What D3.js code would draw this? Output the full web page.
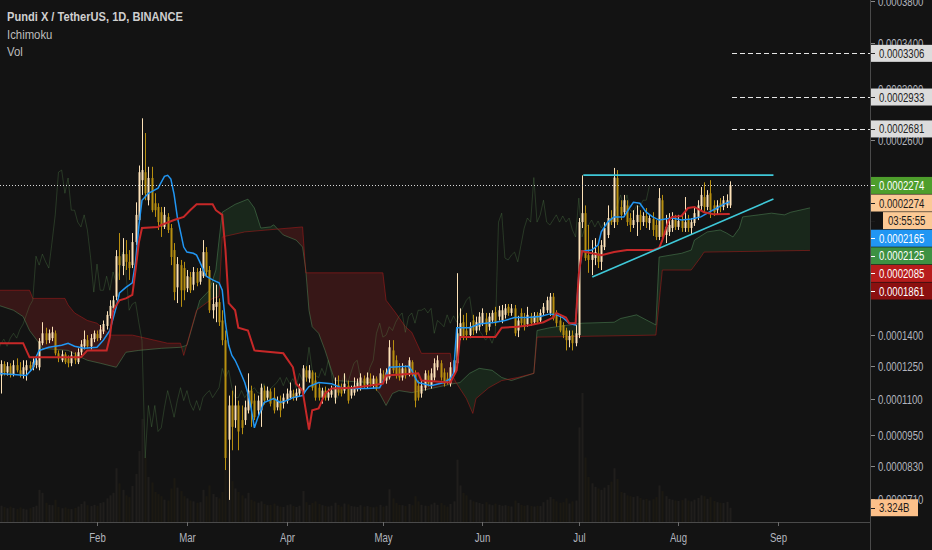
<!DOCTYPE html>
<html><head><meta charset="utf-8">
<script src="https://cdn.jsdelivr.net/npm/d3@7"></script>
<style>
html,body{margin:0;padding:0;background:#131313;}
svg{display:block;}
text{font-family:"Liberation Sans",Arial,sans-serif;}
</style></head><body>
<svg id="chart" width="932" height="550"></svg>
<script>
// ---------- DATA (Pundi X / TetherUS, 1D, BINANCE; daily candles from 2019-01-01) ----------
const firstDay = "2019-01-01";
const open = [
1221e-7,1207e-7,1260e-7,1221e-7,1250e-7,1212e-7,1255e-7,1231e-7,1212e-7,1231e-7,
1255e-7,1245e-7,1255e-7,1245e-7,1360e-7,1409e-7,1375e-7,1385e-7,1409e-7,1311e-7,
1278e-7,1306e-7,1287e-7,1264e-7,1301e-7,1269e-7,1316e-7,1345e-7,1375e-7,1345e-7,
1380e-7,1405e-7,1385e-7,1418e-7,1446e-7,1498e-7,1537e-7,1599e-7,1827e-7,1770e-7,
1839e-7,1794e-7,1775e-7,1911e-7,2047e-7,2310e-7,2365e-7,2175e-7,2325e-7,2155e-7,
2131e-7,2097e-7,2004e-7,2067e-7,1997e-7,1863e-7,1650e-7,1775e-7,1758e-7,1645e-7,
1707e-7,1665e-7,1736e-7,1681e-7,1712e-7,1851e-7,1747e-7,1527e-7,1545e-7,1570e-7,
1474e-7,1375e-7,932e-7,1074e-7,1012e-7,1074e-7,1012e-7,1012e-7,1053e-7,1139e-7,
1095e-7,1053e-7,1053e-7,1139e-7,1108e-7,1135e-7,1108e-7,1066e-7,1095e-7,1082e-7,
1095e-7,1108e-7,1126e-7,1108e-7,1126e-7,1126e-7,1231e-7,1193e-7,1221e-7,1184e-7,
1152e-7,1108e-7,1139e-7,1108e-7,1121e-7,1108e-7,1166e-7,1152e-7,1139e-7,1161e-7,
1117e-7,1130e-7,1148e-7,1152e-7,1193e-7,1166e-7,1193e-7,1166e-7,1193e-7,1166e-7,
1212e-7,1184e-7,1198e-7,1325e-7,1278e-7,1240e-7,1198e-7,1240e-7,1217e-7,1269e-7,
1217e-7,1161e-7,1126e-7,1152e-7,1207e-7,1161e-7,1198e-7,1245e-7,1264e-7,1221e-7,
1193e-7,1170e-7,1221e-7,1264e-7,1390e-7,1465e-7,1423e-7,1400e-7,1474e-7,1423e-7,
1442e-7,1460e-7,1484e-7,1442e-7,1474e-7,1517e-7,1494e-7,1474e-7,1503e-7,1545e-7,
1513e-7,1537e-7,1423e-7,1513e-7,1484e-7,1456e-7,1494e-7,1465e-7,1503e-7,1474e-7,
1513e-7,1527e-7,1513e-7,1599e-7,1503e-7,1474e-7,1451e-7,1423e-7,1375e-7,1400e-7,
1360e-7,1400e-7,2034e-7,2091e-7,1833e-7,1805e-7,1816e-7,1844e-7,1794e-7,1881e-7,
1954e-7,2060e-7,2034e-7,2325e-7,2131e-7,2097e-7,2141e-7,2060e-7,2016e-7,2034e-7,
2080e-7,2034e-7,2073e-7,2028e-7,2054e-7,2016e-7,1942e-7,2175e-7,1954e-7,1973e-7,
1997e-7,2047e-7,2004e-7,2041e-7,1997e-7,2047e-7,1997e-7,2028e-7,2067e-7,2137e-7,
2196e-7,2131e-7,2221e-7,2141e-7,2110e-7,2155e-7,2131e-7,2141e-7,2141e-7];
const high = [
1278e-7,1278e-7,1273e-7,1269e-7,1264e-7,1278e-7,1287e-7,1269e-7,1278e-7,1278e-7,
1273e-7,1287e-7,1296e-7,1385e-7,1465e-7,1437e-7,1428e-7,1442e-7,1423e-7,1325e-7,
1325e-7,1316e-7,1301e-7,1320e-7,1316e-7,1335e-7,1375e-7,1423e-7,1400e-7,1405e-7,
1423e-7,1423e-7,1451e-7,1474e-7,1522e-7,1580e-7,1604e-7,1863e-7,1966e-7,1935e-7,
1923e-7,1863e-7,1966e-7,2161e-7,2412e-7,2763e-7,2650e-7,2403e-7,2403e-7,2221e-7,
2155e-7,2131e-7,2131e-7,2091e-7,2022e-7,1905e-7,1822e-7,1805e-7,1794e-7,1747e-7,
1736e-7,1764e-7,1758e-7,1758e-7,1923e-7,1881e-7,1770e-7,1675e-7,1665e-7,1590e-7,
1527e-7,1423e-7,1117e-7,1139e-7,1161e-7,1095e-7,1074e-7,1095e-7,1217e-7,1161e-7,
1126e-7,1117e-7,1170e-7,1161e-7,1157e-7,1148e-7,1152e-7,1113e-7,1117e-7,1126e-7,
1148e-7,1175e-7,1143e-7,1148e-7,1170e-7,1255e-7,1250e-7,1255e-7,1231e-7,1221e-7,
1170e-7,1152e-7,1157e-7,1148e-7,1161e-7,1198e-7,1207e-7,1170e-7,1217e-7,1184e-7,
1161e-7,1198e-7,1193e-7,1217e-7,1207e-7,1221e-7,1217e-7,1207e-7,1203e-7,1240e-7,
1231e-7,1240e-7,1375e-7,1375e-7,1301e-7,1264e-7,1264e-7,1255e-7,1292e-7,1278e-7,
1231e-7,1184e-7,1184e-7,1231e-7,1231e-7,1240e-7,1287e-7,1301e-7,1278e-7,1240e-7,
1221e-7,1269e-7,1301e-7,1729e-7,1537e-7,1503e-7,1513e-7,1465e-7,1503e-7,1494e-7,
1517e-7,1537e-7,1513e-7,1513e-7,1527e-7,1545e-7,1550e-7,1555e-7,1560e-7,1560e-7,
1560e-7,1555e-7,1498e-7,1537e-7,1513e-7,1545e-7,1513e-7,1517e-7,1517e-7,1532e-7,
1565e-7,1599e-7,1619e-7,1619e-7,1527e-7,1503e-7,1465e-7,1437e-7,1423e-7,1423e-7,
1451e-7,2060e-7,2343e-7,2141e-7,2016e-7,1923e-7,1935e-7,1887e-7,1923e-7,2034e-7,
2141e-7,2110e-7,2395e-7,2380e-7,2175e-7,2210e-7,2175e-7,2091e-7,2110e-7,2141e-7,
2110e-7,2097e-7,2124e-7,2080e-7,2097e-7,2047e-7,2256e-7,2210e-7,2080e-7,2091e-7,
2097e-7,2080e-7,2080e-7,2080e-7,2196e-7,2080e-7,2060e-7,2124e-7,2175e-7,2263e-7,
2295e-7,2242e-7,2310e-7,2175e-7,2175e-7,2189e-7,2203e-7,2214e-7,2302e-7];
const low = [
1207e-7,1126e-7,1207e-7,1207e-7,1198e-7,1203e-7,1221e-7,1198e-7,1193e-7,1184e-7,
1226e-7,1231e-7,1240e-7,1231e-7,1350e-7,1355e-7,1360e-7,1370e-7,1301e-7,1269e-7,
1269e-7,1260e-7,1245e-7,1250e-7,1260e-7,1260e-7,1301e-7,1330e-7,1335e-7,1330e-7,
1365e-7,1370e-7,1375e-7,1405e-7,1428e-7,1484e-7,1517e-7,1580e-7,1691e-7,1718e-7,
1747e-7,1691e-7,1758e-7,1893e-7,2034e-7,2210e-7,2175e-7,2141e-7,2097e-7,2067e-7,
1985e-7,1942e-7,1991e-7,1966e-7,1775e-7,1580e-7,1565e-7,1545e-7,1580e-7,1624e-7,
1619e-7,1634e-7,1656e-7,1665e-7,1702e-7,1712e-7,1513e-7,1484e-7,1465e-7,1446e-7,
1350e-7,814e-7,705e-7,890e-7,980e-7,890e-7,954e-7,992e-7,1040e-7,984e-7,
1012e-7,1032e-7,984e-7,1078e-7,1095e-7,1070e-7,1040e-7,1053e-7,1024e-7,1061e-7,
1082e-7,1100e-7,1095e-7,1095e-7,1113e-7,1117e-7,1179e-7,1175e-7,1139e-7,1095e-7,
1095e-7,1082e-7,1095e-7,1095e-7,1108e-7,1082e-7,1117e-7,1113e-7,1126e-7,1082e-7,
1104e-7,1117e-7,1135e-7,1139e-7,1148e-7,1148e-7,1157e-7,1148e-7,1139e-7,1157e-7,
1170e-7,1170e-7,1189e-7,1217e-7,1193e-7,1184e-7,1184e-7,1193e-7,1203e-7,1203e-7,
1066e-7,1095e-7,1108e-7,1139e-7,1157e-7,1148e-7,1184e-7,1231e-7,1184e-7,1157e-7,
1166e-7,1157e-7,1207e-7,1255e-7,1375e-7,1375e-7,1375e-7,1385e-7,1400e-7,1409e-7,
1423e-7,1446e-7,1400e-7,1423e-7,1460e-7,1446e-7,1474e-7,1460e-7,1484e-7,1498e-7,
1498e-7,1395e-7,1390e-7,1446e-7,1423e-7,1442e-7,1446e-7,1451e-7,1456e-7,1460e-7,
1498e-7,1513e-7,1498e-7,1474e-7,1442e-7,1414e-7,1385e-7,1325e-7,1340e-7,1325e-7,
1345e-7,1385e-7,1997e-7,1800e-7,1731e-7,1718e-7,1775e-7,1758e-7,1747e-7,1863e-7,
1935e-7,2016e-7,1997e-7,2016e-7,2047e-7,2067e-7,2010e-7,1973e-7,1997e-7,1948e-7,
1985e-7,2010e-7,1997e-7,1985e-7,1948e-7,1923e-7,1923e-7,1923e-7,1905e-7,1948e-7,
1973e-7,1985e-7,1985e-7,1973e-7,1973e-7,1973e-7,1954e-7,2010e-7,2047e-7,2110e-7,
2097e-7,2110e-7,2060e-7,2073e-7,2084e-7,2097e-7,2110e-7,2124e-7,2124e-7];
const close = [
1255e-7,1260e-7,1221e-7,1250e-7,1212e-7,1255e-7,1231e-7,1212e-7,1245e-7,1255e-7,
1240e-7,1269e-7,1278e-7,1370e-7,1409e-7,1375e-7,1409e-7,1414e-7,1311e-7,1287e-7,
1306e-7,1269e-7,1264e-7,1301e-7,1278e-7,1316e-7,1355e-7,1380e-7,1345e-7,1385e-7,
1409e-7,1385e-7,1428e-7,1456e-7,1503e-7,1550e-7,1580e-7,1827e-7,1775e-7,1839e-7,
1794e-7,1758e-7,1911e-7,2080e-7,2365e-7,2380e-7,2221e-7,2325e-7,2110e-7,2110e-7,
2034e-7,2004e-7,2080e-7,1985e-7,1822e-7,1624e-7,1781e-7,1634e-7,1634e-7,1712e-7,
1634e-7,1736e-7,1675e-7,1741e-7,1851e-7,1736e-7,1527e-7,1560e-7,1570e-7,1465e-7,
1375e-7,860e-7,1074e-7,984e-7,1074e-7,965e-7,980e-7,1066e-7,1139e-7,1082e-7,
1024e-7,1095e-7,1152e-7,1095e-7,1139e-7,1082e-7,1053e-7,1095e-7,1053e-7,1108e-7,
1126e-7,1139e-7,1108e-7,1130e-7,1152e-7,1240e-7,1198e-7,1231e-7,1152e-7,1108e-7,
1108e-7,1139e-7,1108e-7,1130e-7,1139e-7,1152e-7,1130e-7,1126e-7,1170e-7,1095e-7,
1148e-7,1161e-7,1175e-7,1198e-7,1161e-7,1198e-7,1170e-7,1193e-7,1152e-7,1217e-7,
1184e-7,1221e-7,1340e-7,1231e-7,1207e-7,1198e-7,1240e-7,1207e-7,1278e-7,1217e-7,
1095e-7,1108e-7,1161e-7,1217e-7,1170e-7,1217e-7,1264e-7,1278e-7,1198e-7,1170e-7,
1184e-7,1245e-7,1278e-7,1409e-7,1460e-7,1390e-7,1400e-7,1442e-7,1423e-7,1465e-7,
1494e-7,1513e-7,1414e-7,1494e-7,1513e-7,1460e-7,1527e-7,1527e-7,1537e-7,1513e-7,
1537e-7,1409e-7,1474e-7,1460e-7,1442e-7,1503e-7,1460e-7,1498e-7,1465e-7,1513e-7,
1545e-7,1580e-7,1599e-7,1484e-7,1460e-7,1423e-7,1400e-7,1375e-7,1395e-7,1360e-7,
1409e-7,2034e-7,2091e-7,1816e-7,1805e-7,1833e-7,1851e-7,1794e-7,1893e-7,1997e-7,
2060e-7,2034e-7,2328e-7,2034e-7,2080e-7,2175e-7,2034e-7,2016e-7,2047e-7,2080e-7,
2034e-7,2073e-7,2034e-7,2060e-7,1985e-7,1942e-7,2189e-7,1942e-7,2004e-7,2016e-7,
2047e-7,2004e-7,2041e-7,1997e-7,2034e-7,1997e-7,2034e-7,2091e-7,2141e-7,2210e-7,
2131e-7,2210e-7,2110e-7,2097e-7,2141e-7,2131e-7,2175e-7,2175e-7,2274e-7];
// volume, in billions of PUNDIX
const volumeB = [
4.1,3.8,3.5,3.2,3.6,3.3,3.0,3.4,3.1,2.9,3.2,3.5,3.8,7.5,6.8,4.5,4.0,3.9,5.2,
3.5,3.2,3.4,3.1,3.0,3.3,3.6,4.2,4.8,3.9,3.7,4.0,
3.8,4.4,4.6,5.5,6.2,6.8,12.5,9.0,7.5,6.2,5.8,8.4,11.2,16.5,24.0,15.0,10.5,9.2,
7.0,6.5,6.0,5.2,5.0,7.8,10.2,8.0,7.2,6.0,5.5,5.0,4.8,4.5,4.6,7.5,6.0,8.5,6.5,5.8,5.5,
7.0,21.0,16.0,9.5,7.8,7.0,6.2,5.5,6.8,5.2,4.8,
4.5,4.8,4.2,3.9,4.0,4.3,3.8,3.6,3.5,3.9,4.1,3.7,3.5,3.8,7.2,
4.6,4.0,4.4,4.8,4.2,3.9,3.7,3.6,3.8,4.5,4.0,3.6,4.3,4.1,3.7,3.6,3.5,3.9,3.6,3.7,3.5,3.4,3.6,4.0,3.6,3.8,
7.6,5.5,4.4,4.0,3.9,3.7,4.2,3.9,6.0,4.8,4.0,3.8,3.7,4.1,4.5,4.0,4.4,3.9,3.6,4.2,4.8,
14.5,8.5,6.8,6.2,5.2,4.8,4.6,4.4,
4.2,4.6,4.1,3.9,4.3,4.0,3.8,3.9,3.7,3.6,5.0,4.4,4.0,3.8,3.9,3.7,3.6,3.8,3.7,4.6,
5.2,5.8,5.4,4.8,4.5,4.6,5.5,4.3,4.8,5.0,
22.0,30.0,15.0,10.5,9.0,8.2,7.8,7.5,8.0,8.6,9.4,12.5,10.0,
7.0,6.8,6.2,6.0,5.8,6.0,5.6,5.2,5.4,5.0,5.3,5.8,8.5,7.2,6.0,5.4,5.2,5.0,4.9,5.1,
5.5,5.0,4.8,5.2,5.6,6.2,6.0,5.4,5.8,4.9,4.6,4.5,4.4,4.7,3.324];
// Ichimoku lines: [day offset from firstDay, value]
const tenkan = [[0,1217e-7],[5,1212e-7],[9,1207e-7],[11,1240e-7],[12,1292e-7],[13,1325e-7],[16,1340e-7],[20,1350e-7],[22,1360e-7],[24,1345e-7],[27,1335e-7],[31,1340e-7],[33,1375e-7],[35,1423e-7],[37,1545e-7],[38,1619e-7],[40,1650e-7],[42,1675e-7],[43,1794e-7],[44,2004e-7],[45,2175e-7],[47,2221e-7],[50,2256e-7],[52,2336e-7],[53,2343e-7],[54,2317e-7],[55,2214e-7],[56,2067e-7],[57,1973e-7],[58,1881e-7],[59,1851e-7],[61,1844e-7],[62,1833e-7],[63,1794e-7],[65,1712e-7],[67,1691e-7],[69,1675e-7],[70,1634e-7],[71,1460e-7],[72,1350e-7],[73,1301e-7],[74,1278e-7],[75,1245e-7],[77,1175e-7],[78,1126e-7],[79,1061e-7],[80,980e-7],[81,1020e-7],[83,1087e-7],[86,1104e-7],[88,1087e-7],[90,1095e-7],[92,1108e-7],[95,1117e-7],[96,1139e-7],[97,1157e-7],[100,1175e-7],[104,1170e-7],[107,1152e-7],[110,1148e-7],[115,1148e-7],[119,1152e-7],[121,1207e-7],[122,1245e-7],[128,1250e-7],[129,1231e-7],[130,1198e-7],[131,1175e-7],[135,1161e-7],[139,1175e-7],[141,1193e-7],[142,1217e-7],[143,1437e-7],[147,1437e-7],[150,1456e-7],[152,1460e-7],[155,1465e-7],[158,1474e-7],[161,1489e-7],[165,1489e-7],[169,1494e-7],[172,1508e-7],[174,1503e-7],[176,1489e-7],[178,1460e-7],[180,1451e-7],[181,1714e-7],[182,1856e-7],[185,1863e-7],[187,1893e-7],[188,1973e-7],[190,2034e-7],[192,2067e-7],[195,2067e-7],[197,2131e-7],[198,2161e-7],[200,2155e-7],[202,2097e-7],[204,2067e-7],[206,2047e-7],[210,2060e-7],[213,2047e-7],[216,2054e-7],[219,2067e-7],[221,2091e-7],[224,2124e-7],[226,2148e-7],[228,2165e-7]];
const kijun = [[0,1360e-7],[8,1360e-7],[10,1292e-7],[26,1292e-7],[28,1325e-7],[34,1325e-7],[35,1390e-7],[36,1527e-7],[38,1580e-7],[40,1590e-7],[42,1609e-7],[43,1747e-7],[44,1905e-7],[45,1997e-7],[50,2004e-7],[51,2016e-7],[55,2047e-7],[58,2067e-7],[60,2110e-7],[62,2148e-7],[67,2148e-7],[68,2110e-7],[70,2080e-7],[71,1863e-7],[72,1565e-7],[74,1527e-7],[75,1437e-7],[78,1423e-7],[80,1325e-7],[89,1311e-7],[92,1245e-7],[93,1170e-7],[95,1139e-7],[97,973e-7],[98,1053e-7],[100,1061e-7],[102,1126e-7],[104,1148e-7],[111,1152e-7],[120,1170e-7],[121,1207e-7],[131,1217e-7],[132,1184e-7],[141,1175e-7],[143,1231e-7],[144,1390e-7],[155,1390e-7],[157,1437e-7],[162,1442e-7],[166,1451e-7],[170,1465e-7],[173,1489e-7],[174,1513e-7],[177,1489e-7],[178,1460e-7],[180,1460e-7],[181,1724e-7],[182,1856e-7],[188,1833e-7],[192,1851e-7],[196,1863e-7],[204,1863e-7],[206,1875e-7],[207,1923e-7],[208,1985e-7],[209,2047e-7],[210,2067e-7],[213,2073e-7],[215,2124e-7],[217,2131e-7],[220,2097e-7],[223,2084e-7],[228,2085e-7]];
const spanA = [[0,1555e-7],[5,1527e-7],[8,1494e-7],[10,1423e-7],[13,1360e-7],[14,1335e-7],[22,1325e-7],[26,1292e-7],[28,1278e-7],[32,1264e-7],[37,1245e-7],[40,1316e-7],[44,1325e-7],[51,1335e-7],[57,1340e-7],[59,1350e-7],[63,1580e-7],[66,1634e-7],[68,1747e-7],[69,1923e-7],[70,2097e-7],[71,2110e-7],[74,2148e-7],[78,2182e-7],[80,2124e-7],[82,1997e-7],[85,2004e-7],[86,2017e-7],[89,1954e-7],[93,1923e-7],[95,1881e-7],[96,1747e-7],[97,1527e-7],[98,1442e-7],[100,1409e-7],[102,1325e-7],[104,1231e-7],[105,1184e-7],[116,1175e-7],[119,1126e-7],[121,1074e-7],[123,1126e-7],[125,1139e-7],[129,1130e-7],[142,1170e-7],[144,1175e-7],[147,1217e-7],[150,1240e-7],[154,1231e-7],[157,1198e-7],[160,1184e-7],[167,1217e-7],[168,1423e-7],[172,1437e-7],[182,1460e-7],[192,1465e-7],[194,1484e-7],[199,1503e-7],[205,1451e-7],[206,1822e-7],[213,1844e-7],[216,1863e-7],[217,1923e-7],[221,1973e-7],[225,1985e-7],[227,1966e-7],[229,1942e-7],[231,1997e-7],[232,2067e-7],[237,2080e-7],[241,2091e-7],[245,2080e-7],[247,2097e-7],[253,2125e-7]];
const spanB = [[0,1634e-7],[10,1634e-7],[11,1590e-7],[21,1590e-7],[22,1555e-7],[24,1513e-7],[28,1474e-7],[31,1460e-7],[35,1400e-7],[42,1400e-7],[53,1360e-7],[57,1360e-7],[58,1301e-7],[62,1527e-7],[67,1590e-7],[69,1599e-7],[70,1942e-7],[77,1973e-7],[95,2004e-7],[96,1731e-7],[120,1731e-7],[121,1580e-7],[124,1513e-7],[127,1442e-7],[129,1414e-7],[132,1311e-7],[141,1311e-7],[142,1198e-7],[143,1170e-7],[146,1104e-7],[148,1040e-7],[149,1104e-7],[153,1152e-7],[157,1184e-7],[162,1198e-7],[167,1217e-7],[168,1390e-7],[205,1400e-7],[207,1747e-7],[216,1747e-7],[219,1822e-7],[220,1851e-7],[253,1861e-7]];
const chikouShift = 25;
// drawings
const trendLines = [[[182.4,2345e-7],[241.6,2345e-7]],[[185.2,1707e-7],[241.6,2183e-7]]];
const levels = [3306e-7, 2933e-7, 2681e-7];
const levelStart = 228.7;
const lastPrice = 2274e-7;
const priceTicks = [0.00038,0.00034,0.0003,0.00026,0.00014,0.000125,0.00011,0.000095,0.000083,0.000071];
const lastValues = {tenkan:2165e-7, spanA:2125e-7, kijun:2085e-7, spanB:1861e-7};
const countdown = "03:55:55";
const titleLines = ["Pundi X / TetherUS, 1D, BINANCE","Ichimoku","Vol"];

// ---------- LAYOUT ----------
const W=932, H=550, PW=870, PH=522;
const UP="#fde2b8", DOWN="#b88f10";
const BG="#131313", AXIS_TXT="#b2b5be";
const svg=d3.select("#chart");
svg.append("rect").attr("width",W).attr("height",H).attr("fill",BG);
const t0=Date.parse(firstDay+"T00:00:00Z");
const dateOf=i=>new Date(t0+i*864e5);
const x=d3.scaleUtc().domain([dateOf(0.8),dateOf(271.66)]).range([0,PW]);
const OFF=1e-4; // price axis: logarithmic on (price + offset)
const yLog=d3.scaleLog().domain([0.00038+OFF,0.000071+OFF]).range([1,498.5]);
const y=p=>yLog(p+OFF);
const yVol=d3.scaleLinear().domain([0,30]).range([PH,393]);
const xi=i=>x(dateOf(i));
// condensed text helper
function squeeze(sel,f){const n=sel.node();const w=n.getComputedTextLength();sel.attr("textLength",w*f).attr("lengthAdjust","spacingAndGlyphs");return sel;}

const defs=svg.append("defs");
defs.append("clipPath").attr("id","plot").append("rect").attr("width",PW).attr("height",PH);
const g=svg.append("g").attr("clip-path","url(#plot)");

// cloud
const lineA=d3.line().x(d=>xi(d[0])).y(d=>y(d[1]));
function areaTo(data, edge){return d3.area().x(d=>xi(d[0])).y0(edge).y1(d=>y(d[1]))(data);}
defs.append("clipPath").attr("id","belowA").append("path").attr("d",areaTo(spanA,PH));
defs.append("clipPath").attr("id","belowB").append("path").attr("d",areaTo(spanB,PH));
g.append("path").attr("d",areaTo(spanB,0)).attr("clip-path","url(#belowA)").attr("fill","#3f9c48").attr("fill-opacity",0.15);
g.append("path").attr("d",areaTo(spanA,0)).attr("clip-path","url(#belowB)").attr("fill","#c62828").attr("fill-opacity",0.2);
g.append("path").attr("d",lineA(spanA)).attr("fill","none").attr("stroke","#5b9a62").attr("stroke-opacity",0.45).attr("stroke-width",1);
g.append("path").attr("d",lineA(spanB)).attr("fill","none").attr("stroke","#b71c1c").attr("stroke-opacity",0.5).attr("stroke-width",1);

// chikou (close plotted back)
const chik=close.map((c,i)=>[i-chikouShift,c]).filter(d=>d[0]>=-1);
g.append("path").attr("d",lineA(chik)).attr("fill","none").attr("stroke","#5a8f4e").attr("stroke-opacity",0.3).attr("stroke-width",1);

// volume
const idx=d3.range(close.length);
g.append("g").selectAll("rect").data(idx).join("rect")
 .attr("x",i=>Math.round(xi(i))-0.5).attr("width",2)
 .attr("y",i=>yVol(volumeB[i]||0)).attr("height",i=>PH-yVol(volumeB[i]||0))
 .attr("fill",i=>close[i]>=open[i]?UP:DOWN).attr("fill-opacity",0.06);

// candles
const cg=g.append("g");
cg.selectAll("line").data(idx).join("line")
 .attr("x1",i=>Math.round(xi(i))+0.5).attr("x2",i=>Math.round(xi(i))+0.5)
 .attr("y1",i=>y(high[i])).attr("y2",i=>y(low[i]))
 .attr("stroke",i=>close[i]>=open[i]?UP:DOWN).attr("stroke-width",1);
cg.selectAll("rect").data(idx).join("rect")
 .attr("x",i=>Math.round(xi(i))-0.5).attr("width",2)
 .attr("y",i=>y(Math.max(open[i],close[i])))
 .attr("height",i=>Math.max(1,Math.abs(y(open[i])-y(close[i]))))
 .attr("fill",i=>close[i]>=open[i]?UP:DOWN);

// tenkan / kijun
g.append("path").attr("d",lineA(tenkan)).attr("fill","none").attr("stroke","#2196f3").attr("stroke-width",1.5);
g.append("path").attr("d",lineA(kijun)).attr("fill","none").attr("stroke","#c62828").attr("stroke-width",2);

// trend lines
trendLines.forEach(t=>{
 g.append("line").attr("x1",xi(t[0][0])).attr("y1",y(t[0][1])).attr("x2",xi(t[1][0])).attr("y2",y(t[1][1]))
  .attr("stroke","#3fc8d8").attr("stroke-width",1.6);
});
g.append("line").attr("x1",0).attr("x2",PW).attr("y1",Math.round(y(lastPrice))+0.5).attr("y2",Math.round(y(lastPrice))+0.5)
 .attr("stroke","#d8d8d8").attr("stroke-dasharray","1,2").attr("stroke-width",1);
levels.forEach(v=>{
 g.append("line").attr("x1",xi(levelStart)).attr("x2",PW).attr("y1",Math.round(y(v))+0.5).attr("y2",Math.round(y(v))+0.5)
  .attr("stroke","#e6e6e6").attr("stroke-dasharray","5,3").attr("stroke-width",1);
});

// legend
const leg=svg.append("g");
const t1=leg.append("text").attr("x",7).attr("y",21).text(titleLines[0]).attr("fill","#cfcfcf").attr("font-size",13.5).attr("font-weight","bold");
t1.attr("textLength",176).attr("lengthAdjust","spacingAndGlyphs");
squeeze(leg.append("text").attr("x",7).attr("y",39).text(titleLines[1]).attr("fill","#bdbdbd").attr("font-size",13.5),0.84);
squeeze(leg.append("text").attr("x",7).attr("y",56).text(titleLines[2]).attr("fill","#bdbdbd").attr("font-size",13.5),0.84);

// axes
const ax=svg.append("g");
ax.append("line").attr("x1",PW+0.5).attr("x2",PW+0.5).attr("y1",0).attr("y2",H).attr("stroke","#4a4a4a");
ax.append("line").attr("x1",0).attr("x2",PW).attr("y1",PH+0.5).attr("y2",PH+0.5).attr("stroke","#4a4a4a");
const fmt=d3.format(".7f");
const AX_F=0.8;
priceTicks.forEach(v=>{
 const yy=Math.round(y(v))+0.5;
 ax.append("line").attr("x1",PW+1).attr("x2",PW+5).attr("y1",yy).attr("y2",yy).attr("stroke","#8a8a8a");
 squeeze(ax.append("text").attr("x",PW+8).attr("y",yy+4).text(fmt(v)).attr("fill",AXIS_TXT).attr("font-size",12),AX_F);
});
const months=d3.utcMonth.range(dateOf(31),dateOf(245));
months.forEach(m=>{
 const xx=Math.round(x(m))+0.5;
 ax.append("line").attr("x1",xx).attr("x2",xx).attr("y1",PH).attr("y2",PH+4).attr("stroke","#6a6a6a");
 squeeze(ax.append("text").attr("x",xx).attr("y",542).attr("text-anchor","middle").text(d3.utcFormat("%b")(m)).attr("fill",AXIS_TXT).attr("font-size",12),0.8);
});

// right-axis labels
function tag(yc,text,bg,fg,x0,w){
 x0=x0||PW+1; w=w||(W-x0);
 ax.append("rect").attr("x",x0).attr("y",yc-8.5).attr("width",w).attr("height",17).attr("fill",bg);
 ax.append("line").attr("x1",PW+1).attr("x2",PW+5).attr("y1",Math.round(yc)+0.5).attr("y2",Math.round(yc)+0.5).attr("stroke",fg);
 squeeze(ax.append("text").attr("x",x0+(x0>PW+1?5:8)).attr("y",yc+4.5).text(text).attr("fill",fg).attr("font-size",12),AX_F);
}
levels.forEach(v=>tag(y(v),fmt(v),"#dcdcdc","#222"));
const stack=[
 {v:lastPrice,t:fmt(lastPrice),bg:"#4e9e2c",fg:"#ffffff"},
 {v:close[close.length-1],t:fmt(close[close.length-1]),bg:"#fbc995",fg:"#1b1b1b"},
 {v:close[close.length-1],t:countdown,bg:"#fbc995",fg:"#1b1b1b",x0:883},
 {v:lastValues.tenkan,t:fmt(lastValues.tenkan),bg:"#2196f3",fg:"#ffffff"},
 {v:lastValues.spanA,t:fmt(lastValues.spanA),bg:"#3d9142",fg:"#ffffff"},
 {v:lastValues.kijun,t:fmt(lastValues.kijun),bg:"#b71c1c",fg:"#ffffff"},
 {v:lastValues.spanB,t:fmt(lastValues.spanB),bg:"#8b1010",fg:"#ffffff"}
];
let prev=-1e9;
stack.forEach(s=>{let yy=Math.max(y(s.v),prev+17.6);prev=yy;s.y=yy;});
stack.forEach(s=>tag(s.y,s.t,s.bg,s.fg,s.x0));
const lv=volumeB[volumeB.length-1];
tag(yVol(lv),lv.toFixed(3)+"B","#fcc08a","#1b1b1b",PW+1,47);
</script>
</body></html>
